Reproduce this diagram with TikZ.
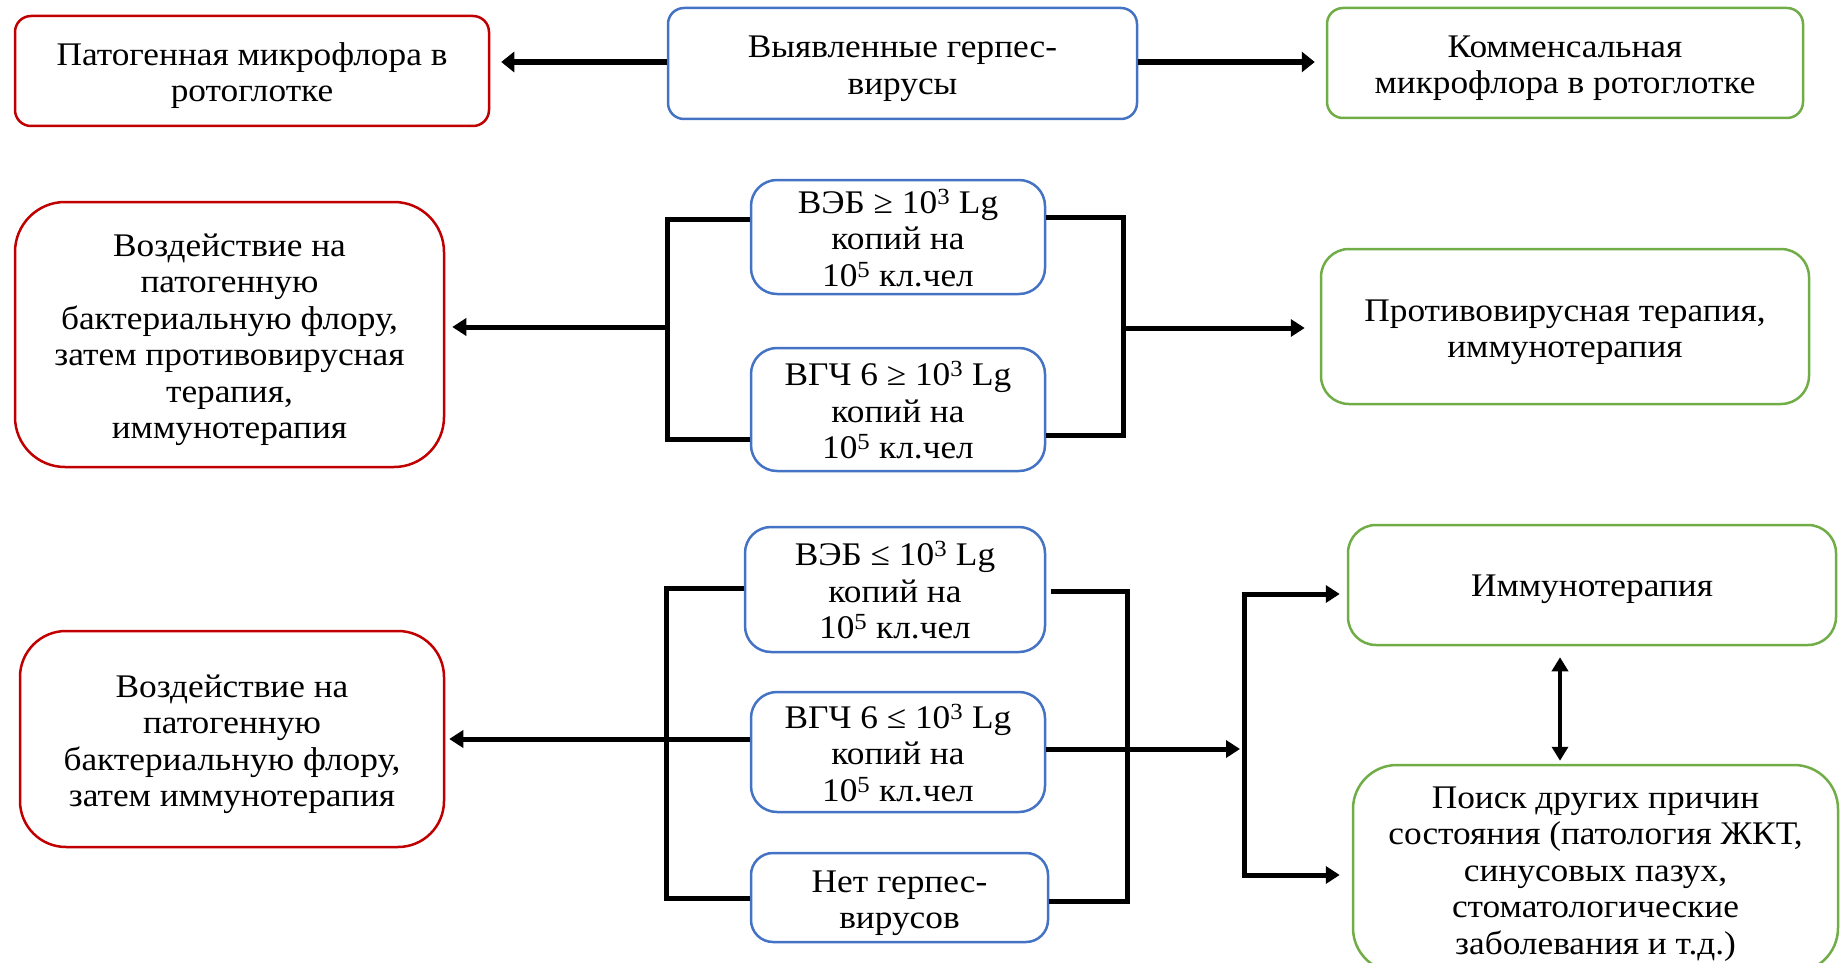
\documentclass[tikz,border=0pt]{standalone}
\usepackage{fontspec}
\setmainfont{Liberation Serif}[FakeStretch=1.07]
\usetikzlibrary{arrows.meta}
\definecolor{cred}{RGB}{192,0,0}
\definecolor{cblue}{RGB}{68,114,196}
\definecolor{cgreen}{RGB}{112,173,71}
\newcommand\firstl{\rule{0pt}{33pt}}
\tikzset{
  box/.style={draw, line width=2.5pt, align=center, inner sep=0pt, font=\fontsize{33}{36.5}\selectfont,
    execute at begin node={\rule{0pt}{31pt}}, execute at end node={\rule[-7.5pt]{0pt}{7.5pt}}},
  redbox/.style={box, draw=cred},
  bluebox/.style={box, draw=cblue},
  greenbox/.style={box, draw=cgreen},
  conn/.style={line width=5pt, line cap=butt, line join=miter},
  arr/.style={conn, -{Triangle[length=14pt,width=17pt]}},
  bigarr/.style={line width=6.5pt, -{Triangle[length=13pt,width=20pt]}},
  dblarr/.style={line width=4.5pt, {Triangle[length=14pt,width=16pt]}-{Triangle[length=14pt,width=16pt]}},
}
\begin{document}
\begin{tikzpicture}[x=1pt,y=-1pt]
\useasboundingbox (0,0) rectangle (1845,963);
% top row
\node[redbox, rounded corners=16pt, minimum width=474pt, minimum height=110pt] (A) at (252,71) {\firstl Патогенная микрофлора в\\ротоглотке};
\node[bluebox, rounded corners=16pt, minimum width=469pt, minimum height=111pt] (B) at (902.5,63.5) {\firstl Выявленные герпес-\\вирусы};
\node[greenbox, rounded corners=16pt, minimum width=476pt, minimum height=110pt] (C) at (1565,63) {\firstl Комменсальная\\микрофлора в ротоглотке};
\draw[bigarr] (B.west |- 0,62) -- ([xshift=11pt]A.east |- 0,62);
\draw[bigarr] (B.east |- 0,62) -- ([xshift=-11pt]C.west |- 0,62);
% second row
\node[redbox, rounded corners=50pt, minimum width=429pt, minimum height=265pt] (D) at (229.5,334.5) {\firstl Воздействие на\\патогенную\\бактериальную флору,\\затем противовирусная\\терапия,\\иммунотерапия};
\node[bluebox, rounded corners=26pt, minimum width=294pt, minimum height=114pt] (E1) at (898,237) {\firstl ВЭБ ≥ 10\textsuperscript{3} Lg\\копий на\\10\textsuperscript{5} кл.чел};
\node[bluebox, rounded corners=26pt, minimum width=294pt, minimum height=123pt] (E2) at (898,409.5) {\firstl ВГЧ 6 ≥ 10\textsuperscript{3} Lg\\копий на\\10\textsuperscript{5} кл.чел};
\node[greenbox, rounded corners=28pt, minimum width=488pt, minimum height=155pt] (F) at (1565,326.5) {\firstl Противовирусная терапия,\\иммунотерапия};
\coordinate (L2t) at (667,219);
\coordinate (L2b) at (667,439);
\coordinate (L2m) at (667,327);
\coordinate (R2t) at (1123,217);
\coordinate (R2b) at (1123,435);
\coordinate (R2m) at (1123,328);
\draw[conn] (E1.west |- L2t) -- (L2t) -- (L2b) -- (E2.west |- L2b);
\draw[arr] (L2m) -- ([xshift=7pt]D.east |- L2m);
\draw[conn] (E1.east |- R2t) -- (R2t) -- (R2b) -- (E2.east |- R2b);
\draw[arr] (R2m) -- ([xshift=-15pt]F.west |- R2m);
% third row
\node[redbox, rounded corners=46pt, minimum width=424pt, minimum height=216pt] (G) at (232,739) {\firstl Воздействие на\\патогенную\\бактериальную флору,\\затем иммунотерапия};
\node[bluebox, rounded corners=26pt, minimum width=300pt, minimum height=125pt] (H1) at (895,589.5) {\firstl ВЭБ ≤ 10\textsuperscript{3} Lg\\копий на\\10\textsuperscript{5} кл.чел};
\node[bluebox, rounded corners=26pt, minimum width=294pt, minimum height=120pt] (H2) at (898,752) {\firstl ВГЧ 6 ≤ 10\textsuperscript{3} Lg\\копий на\\10\textsuperscript{5} кл.чел};
\node[bluebox, rounded corners=22pt, minimum width=297pt, minimum height=89pt] (H3) at (899.5,897.5) {\firstl Нет герпес-\\вирусов};
\node[greenbox, rounded corners=28pt, minimum width=488pt, minimum height=120pt] (I) at (1592,585) {Иммунотерапия};
\node[greenbox, rounded corners=44pt, minimum width=485pt, minimum height=207pt] (J) at (1595.5,868.5) {\firstl Поиск других причин\\состояния (патология ЖКТ,\\синусовых пазух,\\стоматологические\\заболевания и т.д.)};
\coordinate (L3t) at (666,588);
\coordinate (L3b) at (666,898);
\coordinate (R3t) at (1127,591);
\coordinate (R3b) at (1127,901);
\coordinate (S3t) at (1244,594);
\coordinate (S3b) at (1244,875);
\draw[conn] (H1.west |- L3t) -- (L3t) -- (L3b) -- (H3.west |- L3b);
\draw[arr] (H2.west |- 0,739) -- ([xshift=4pt]G.east |- 0,739);
\draw[conn] ([xshift=5pt]H1.east |- R3t) -- (R3t) -- (R3b) -- (H3.east |- R3b);
\draw[arr] (H2.east |- 0,749) -- ([xshift=-4pt]S3t |- 0,749);
\draw[conn] (S3t) -- (S3b);
\draw[arr] ([xshift=-2.5pt]S3t) -- ([xshift=-7pt]I.west |- S3t);
\draw[arr] ([xshift=-2.5pt]S3b) -- ([xshift=-12pt]J.west |- S3b);
\draw[dblarr] ([yshift=-11pt]I.south -| 1560,0) -- ([yshift=3pt]J.north -| 1560,0);
\end{tikzpicture}
\end{document}
